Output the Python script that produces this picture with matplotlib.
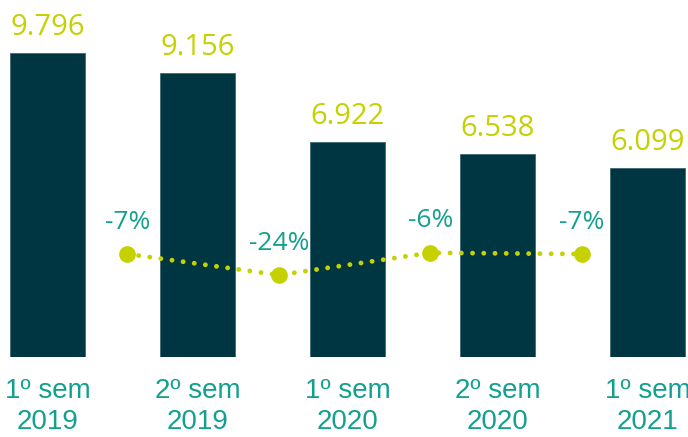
import numpy as np
import matplotlib
matplotlib.use("Agg")
import matplotlib.pyplot as plt

periods = ["1º sem\n2019", "2º sem\n2019", "1º sem\n2020", "2º sem\n2020", "1º sem\n2021"]
values = [9.796, 9.156, 6.922, 6.538, 6.099]
value_labels = ["9.796", "9.156", "6.922", "6.538", "6.099"]
changes = [-7, -24, -6, -7]
change_labels = ["-7%", "-24%", "-6%", "-7%"]

bar_color = "#003641"
lime = "#C5D100"
teal = "#13A08E"

fig = plt.figure(figsize=(6.88, 4.37), dpi=100)
ax = fig.add_axes([0, 80 / 437, 1, 357 / 437])
x = np.arange(len(values))
ax.bar(x, values, width=0.5, color=bar_color, edgecolor="#3d6872", linewidth=0.6)
ax.set_xlim(-0.32, 4.267)
ax.set_ylim(0, 11.505)
for xi, v, lab in zip(x, values, value_labels):
    ax.annotate(lab, (xi, v), xytext=(0, 8), textcoords="offset points",
                ha="center", va="bottom", fontsize=21, color=lime,
                family=["Open Sans", "DejaVu Sans"])
ax.set_xticks(x)
ax.set_xticklabels(periods, fontsize=20, color=teal, family="Liberation Sans",
                   linespacing=1.25)
ax.tick_params(axis="x", length=0, pad=15)
ax.set_yticks([])
for s in ax.spines.values():
    s.set_visible(False)

# growth line on a second scale
ax2 = ax.twinx()
ax2.set_ylim(-90.4, 198.7)
xl = np.array([0.53, 1.54, 2.55, 3.56])
ax2.plot(xl, changes, color=lime, lw=3.5, linestyle=(0, (0.01, 2.3)),
         dash_capstyle="round", zorder=3)
ax2.plot(xl, changes, "o", color=lime, markersize=11, zorder=4)
for xi, c, lab in zip(xl, changes, change_labels):
    ax2.annotate(lab, (xi, c), xytext=(0, 14), textcoords="offset points",
                 ha="center", va="bottom", fontsize=19, color=teal,
                 family=["Open Sans", "DejaVu Sans"])
ax2.set_yticks([])
for s in ax2.spines.values():
    s.set_visible(False)

fig.savefig("out.png", dpi=100)
